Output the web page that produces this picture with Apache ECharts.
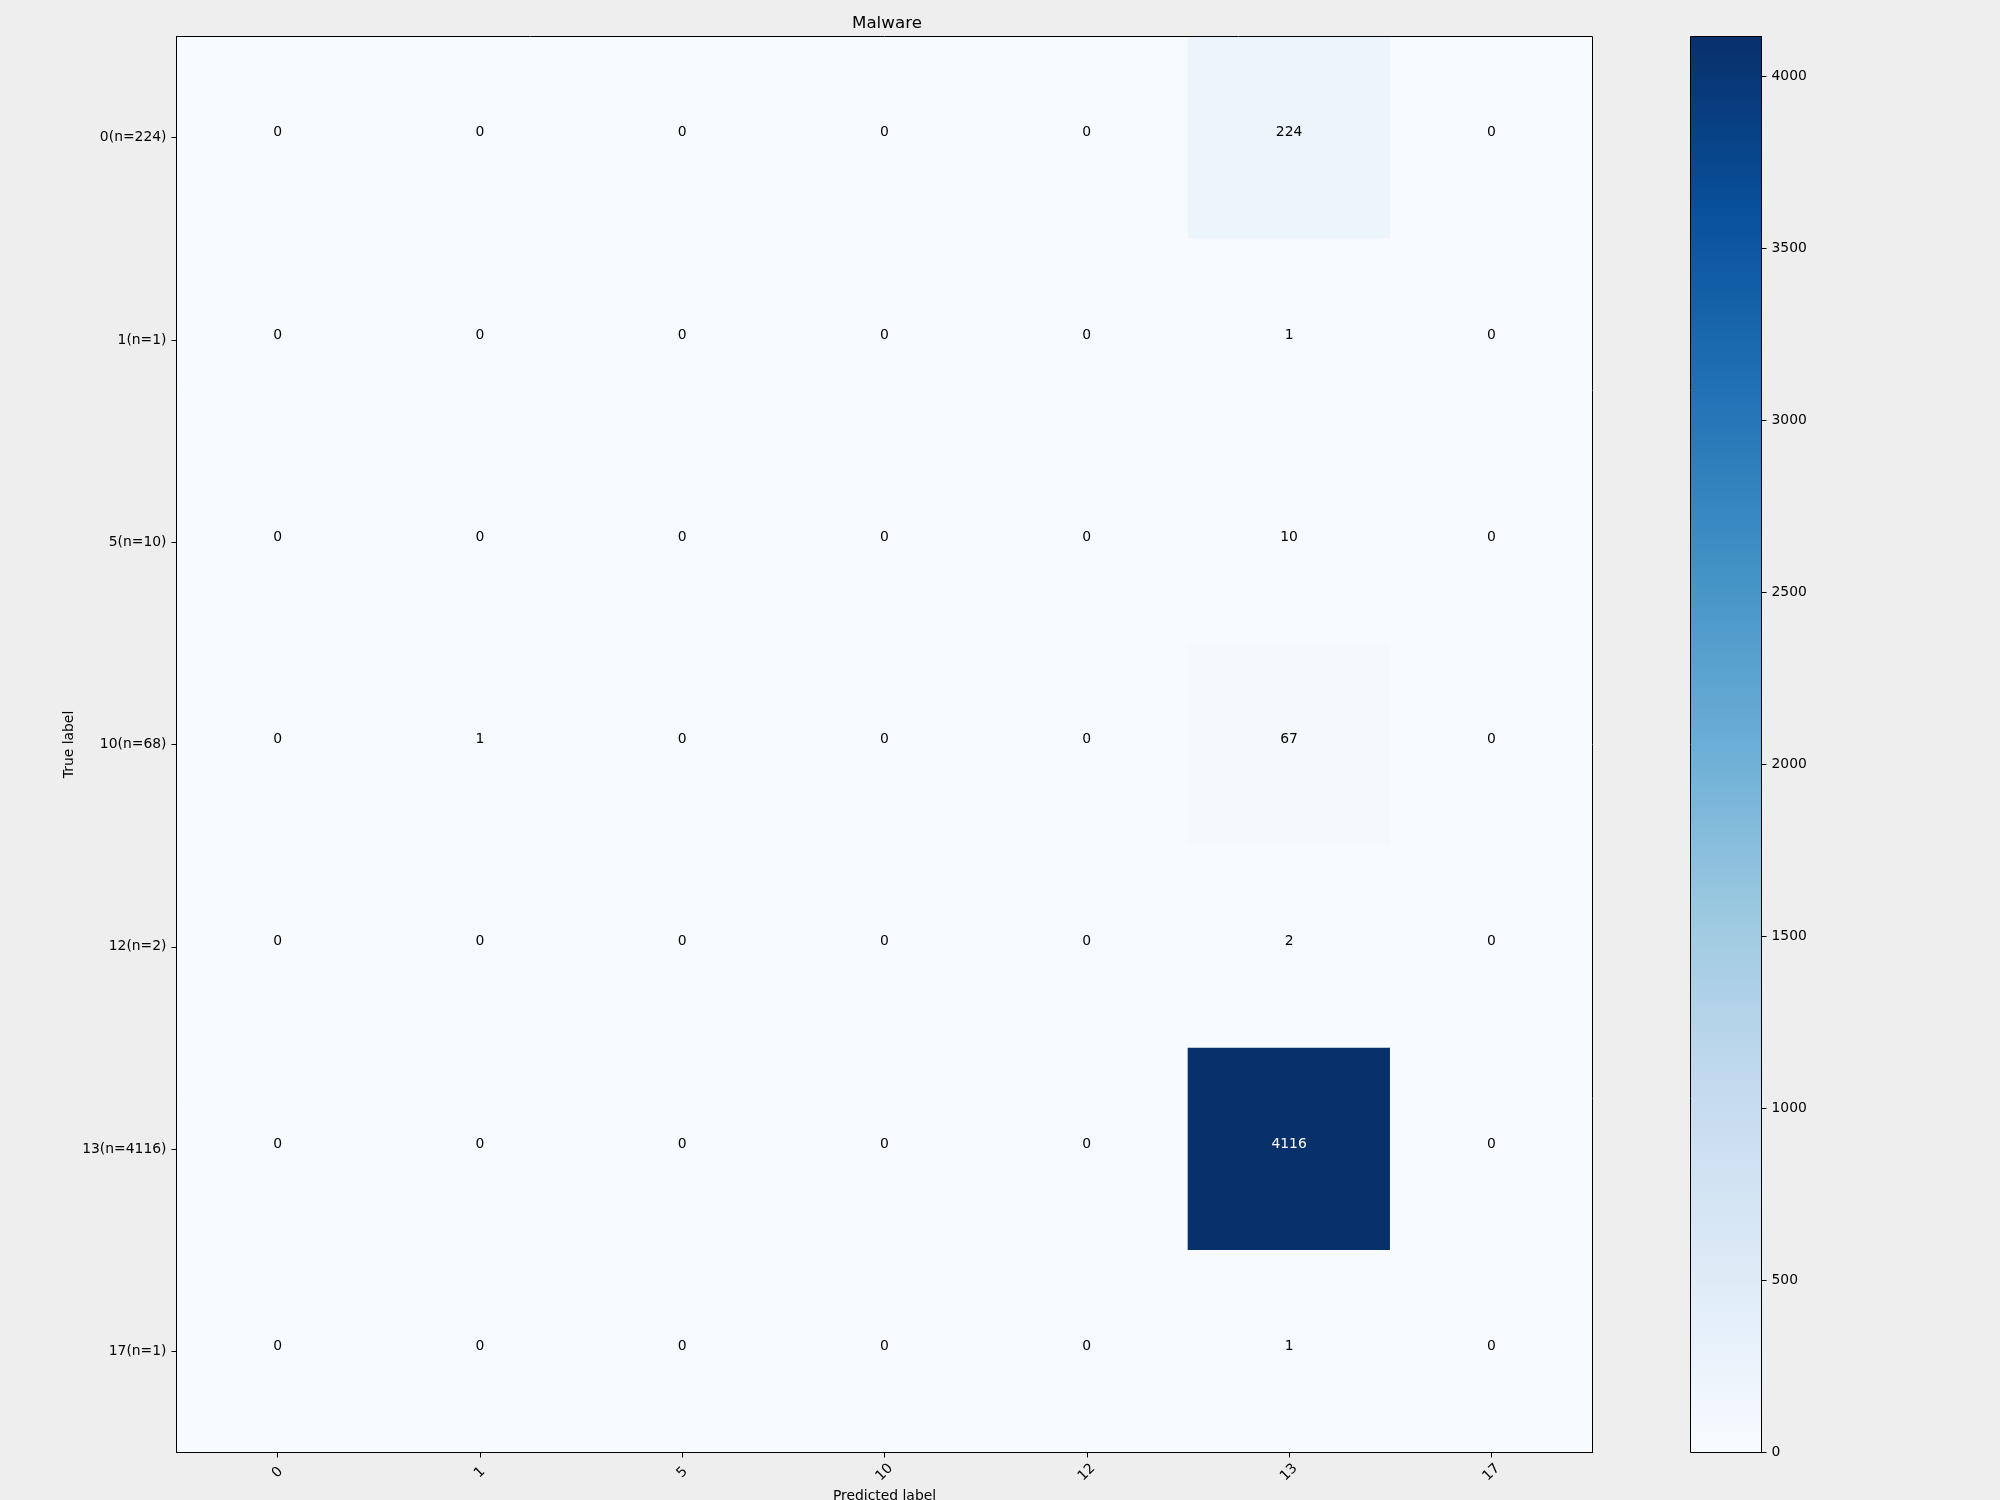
<!DOCTYPE html>
<html>
<head>
<meta charset="utf-8">
<script src="https://cdn.jsdelivr.net/npm/echarts@6/dist/echarts.min.js"></script>
<style>
html,body{margin:0;padding:0;background:#eeeeee;}
#chart{width:2000px;height:1500px;}
</style>
</head>
<body>
<div id="chart"></div>
<script>
// ---- data ----
const titleText = 'Malware';
const predictedLabels = ['0', '1', '5', '10', '12', '13', '17'];
const trueLabels = ['0(n=224)', '1(n=1)', '5(n=10)', '10(n=68)', '12(n=2)', '13(n=4116)', '17(n=1)'];
const row0 = [0, 0, 0, 0, 0, 224, 0];
const row1 = [0, 0, 0, 0, 0, 1, 0];
const row2 = [0, 0, 0, 0, 0, 10, 0];
const row3 = [0, 1, 0, 0, 0, 67, 0];
const row4 = [0, 0, 0, 0, 0, 2, 0];
const row5 = [0, 0, 0, 0, 0, 4116, 0];
const row6 = [0, 0, 0, 0, 0, 1, 0];
const colorbarTicks = [0, 500, 1000, 1500, 2000, 2500, 3000, 3500, 4000];
const bluesStops = ['#f7fbff', '#deebf7', '#c6dbef', '#9ecae1', '#6baed6', '#4292c6', '#2171b5', '#08519c', '#08306b'];

const matrix = [row0, row1, row2, row3, row4, row5, row6];
let vmax = 0;
matrix.forEach(r => r.forEach(v => { if (v > vmax) vmax = v; }));
const thresh = vmax / 2;

const heatData = [];
matrix.forEach((r, yi) => r.forEach((v, xi) => {
  heatData.push({
    value: [xi, yi, v],
    label: { color: v > thresh ? '#ffffff' : '#000000' }
  });
}));

const FONT = 'DejaVu Sans';
const gradStops = bluesStops.map((c, i) => ({ offset: 1 - i / (bluesStops.length - 1), color: c }));

const chart = echarts.init(document.getElementById('chart'), null, { renderer: 'canvas' });
chart.setOption({
  backgroundColor: '#eeeeee',
  animation: false,
  textStyle: { fontFamily: FONT },
  title: {
    text: titleText,
    left: 852,
    top: 15,
    padding: 0,
    textStyle: { fontFamily: FONT, fontSize: 16.7, fontWeight: 'normal', color: '#000' }
  },
  grid: [
    { left: 176.5, top: 36.5, width: 1416, height: 1416, show: true, z: 10, borderColor: '#000', borderWidth: 1, backgroundColor: 'transparent', outerBoundsMode: 'none', containLabel: false },
    { left: 1690.5, top: 36.5, width: 71, height: 1416, show: true, z: 10, borderColor: '#000', borderWidth: 1, backgroundColor: 'transparent', outerBoundsMode: 'none', containLabel: false }
  ],
  visualMap: {
    show: false,
    type: 'continuous',
    min: 0,
    max: vmax,
    dimension: 2,
    seriesIndex: 0,
    inRange: { color: bluesStops }
  },
  xAxis: [
    {
      gridIndex: 0,
      type: 'category',
      z: 10,
      data: predictedLabels,
      name: 'Predicted label',
      nameLocation: 'middle',
      nameGap: 37,
      nameMoveOverlap: false,
      nameTextStyle: { fontFamily: FONT, fontSize: 13.9, color: '#000' },
      axisLine: { show: true, lineStyle: { color: '#000', width: 1 } },
      axisTick: { show: true, alignWithLabel: true, length: 5, lineStyle: { color: '#000' } },
      axisLabel: { rotate: 45, align: 'center', verticalAlign: 'middle', margin: 20, fontFamily: FONT, fontSize: 13.9, color: '#000' },
      splitLine: { show: false },
      splitArea: { show: false }
    },
    {
      gridIndex: 1,
      type: 'category',
      data: ['cb'],
      show: false
    }
  ],
  yAxis: [
    {
      gridIndex: 0,
      type: 'category',
      z: 10,
      data: trueLabels,
      inverse: true,
      name: 'True label',
      nameLocation: 'middle',
      nameGap: 100,
      nameMoveOverlap: false,
      nameRotate: 90,
      nameTextStyle: { fontFamily: FONT, fontSize: 13.9, color: '#000' },
      axisLine: { show: true, lineStyle: { color: '#000', width: 1 } },
      axisTick: { show: true, alignWithLabel: true, length: 5, lineStyle: { color: '#000' } },
      axisLabel: { margin: 10, fontFamily: FONT, fontSize: 13.9, color: '#000' },
      splitLine: { show: false },
      splitArea: { show: false }
    },
    {
      gridIndex: 1,
      type: 'value',
      z: 10,
      position: 'right',
      min: 0,
      max: vmax,
      axisLine: { show: true, lineStyle: { color: '#000', width: 1 } },
      axisTick: { show: true, length: 5, lineStyle: { color: '#000' }, customValues: colorbarTicks },
      axisLabel: { margin: 10, fontFamily: FONT, fontSize: 13.9, color: '#000', customValues: colorbarTicks, formatter: v => String(v) },
      splitLine: { show: false }
    }
  ],
  series: [
    {
      type: 'heatmap',
      xAxisIndex: 0,
      yAxisIndex: 0,
      data: heatData,
      label: {
        show: true,
        fontFamily: FONT,
        fontSize: 13.9,
        offset: [0, -5],
        formatter: p => String(p.value[2])
      },
      itemStyle: { borderWidth: 0 },
      emphasis: { disabled: true }
    },
    {
      type: 'bar',
      xAxisIndex: 1,
      yAxisIndex: 1,
      data: [vmax],
      barWidth: '100%',
      silent: true,
      itemStyle: {
        color: { type: 'linear', x: 0, y: 0, x2: 0, y2: 1, colorStops: gradStops.slice().reverse() }
      }
    }
  ]
});
</script>
</body>
</html>
